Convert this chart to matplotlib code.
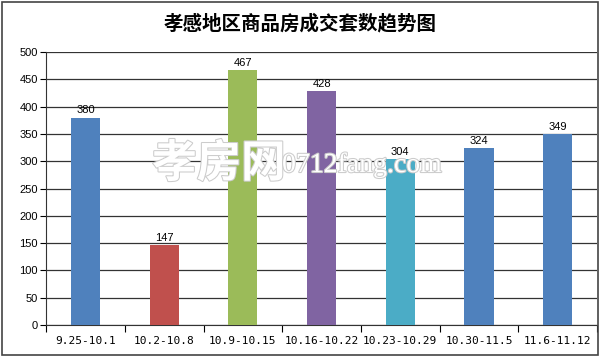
import matplotlib
matplotlib.use("Agg")
import matplotlib.pyplot as plt
import matplotlib.patheffects as pe
from matplotlib.patches import Rectangle

plt.rcParams['font.family'] = ['Noto Sans CJK SC', 'DejaVu Sans']

# data
periods = ["9.25-10.1", "10.2-10.8", "10.9-10.15", "10.16-10.22",
           "10.23-10.29", "10.30-11.5", "11.6-11.12"]
sales = [380, 147, 467, 428, 304, 324, 349]
bar_colors = ["#4F81BD", "#C0504D", "#9BBB59", "#8064A2",
              "#4BACC6", "#4F81BD", "#4F81BD"]
yticks = [0, 50, 100, 150, 200, 250, 300, 350, 400, 450, 500]

fig = plt.figure(figsize=(6, 3.56), dpi=100)
ax = fig.add_axes([0.077, 0.087, 0.918, 0.767])

x = list(range(len(periods)))
bars = ax.bar(x, sales, width=0.37, color=bar_colors, zorder=3)

for xi, v in zip(x, sales):
    ax.text(xi, v + 4, str(v), ha='center', va='bottom', fontsize=8,
            family=['Liberation Sans', 'DejaVu Sans'], zorder=6)

ax.set_xlim(-0.5, len(periods) - 0.5)
ax.set_ylim(0, 500)
ax.set_yticks(yticks)
ax.set_yticklabels([str(t) for t in yticks], fontsize=8,
                   family=['Liberation Sans', 'DejaVu Sans'])
ax.set_xticks(x)
ax.set_xticklabels(periods, fontsize=8, family=['DejaVu Sans Mono'])
ax.tick_params(axis='x', length=0, pad=8)
ax.tick_params(axis='y', length=4, width=0.8, pad=2)
# minor ticks at category boundaries
ax.set_xticks([i - 0.5 for i in range(len(periods) + 1)], minor=True)
ax.tick_params(axis='x', which='minor', length=5, width=0.8)

ax.yaxis.grid(True, color='#333333', linewidth=0.9, zorder=0)
ax.set_axisbelow(True)
for s in ['top', 'right']:
    ax.spines[s].set_visible(False)
ax.spines['left'].set_color('#333333')
ax.spines['bottom'].set_color('#333333')

fig.text(0.5, 0.935, "孝感地区商品房成交套数趋势图", ha='center', va='center',
         fontsize=14, fontweight='bold')

# watermark
fig.text(0.365, 0.54, "孝房网", ha='center', va='center', fontsize=32,
         color='white', fontweight='bold', zorder=5,
         path_effects=[pe.withStroke(linewidth=1.5, foreground='#cccccc')])
fig.text(0.603, 0.535, "0712fang.com", ha='center', va='center', fontsize=20,
         color='white', family=['Liberation Serif', 'DejaVu Serif'], zorder=5,
         path_effects=[pe.withStroke(linewidth=1.5, foreground='#cccccc')])

fig.patches.append(Rectangle((0.004, 0.004), 0.992, 0.99, transform=fig.transFigure,
                             fill=False, edgecolor='#444444', linewidth=1.2))

fig.savefig("out.png", dpi=100)
